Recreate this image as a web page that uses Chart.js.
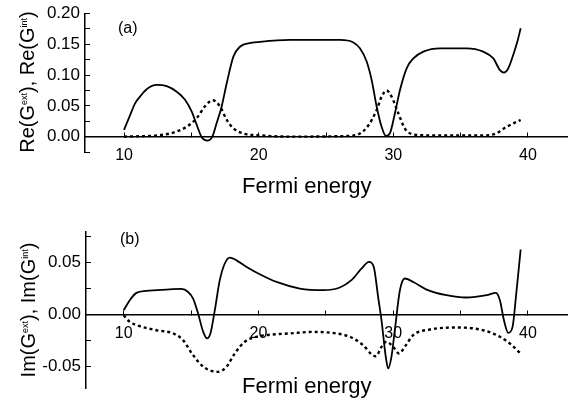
<!DOCTYPE html>
<html>
<head>
<meta charset="utf-8">
<script src="https://cdn.jsdelivr.net/npm/chart.js@4.4.0/dist/chart.umd.min.js"></script>
<style>
  body { margin: 0; background: #fff; }
  #wrap { position: relative; width: 569px; height: 403px; font-family: 'Liberation Sans', Arial, sans-serif; color: #000; }
  canvas { position: absolute; left: 0; }
  .lbl { position: absolute; white-space: nowrap; line-height: 1; }
  .ytitle { font-size: 20px; transform: translate(-50%, -50%) rotate(-90deg); }
  .ytitle sup { font-size: 9px; vertical-align: 7px; line-height: 0; }
  .xtitle { font-size: 22px; }
  .tag { font-size: 16px; }
</style>
</head>
<body>
<div id="wrap">
  <canvas id="chart-a" width="569" height="200" style="top:0"></canvas>
  <canvas id="chart-b" width="569" height="203" style="top:200px"></canvas>
  <div class="lbl tag" style="left:118px;top:20px">(a)</div>
  <div class="lbl tag" style="left:120px;top:231px">(b)</div>
  <div class="lbl ytitle" style="left:27px;top:82px">Re(G<sup>ext</sup>), Re(G<sup>int</sup>)</div>
  <div class="lbl ytitle" style="left:28px;top:310px">Im(G<sup>ext</sup>), Im(G<sup>int</sup>)</div>
  <div class="lbl xtitle" style="left:242px;top:175px">Fermi energy</div>
  <div class="lbl xtitle" style="left:242px;top:375px">Fermi energy</div>
</div>
<script>
// ---- panel (a): real parts ----
const reSolidX = [10.0, 10.45, 10.82, 11.19, 11.68, 12.43, 13.17, 13.91, 14.53, 15.02, 15.4, 15.77, 16.19, 16.56, 16.88, 17.25, 17.63, 18.12, 18.61, 19.23, 20.1, 22.33, 24.06, 26.04, 27.03, 27.52, 28.02, 28.39, 28.76, 29.13, 29.45, 29.75, 30.12, 30.5, 30.99, 31.49, 32.23, 33.47, 35.45, 36.68, 37.43, 37.92, 38.22, 38.54, 38.91, 39.21, 39.46];
const reSolidY = [0.011, 0.035, 0.054, 0.065, 0.077, 0.084, 0.082, 0.073, 0.060, 0.041, 0.019, -0.001, -0.0065, 0.0, 0.022, 0.049, 0.087, 0.130, 0.146, 0.1516, 0.154, 0.157, 0.157, 0.157, 0.153, 0.1435, 0.122, 0.092, 0.049, 0.016, 0.001, 0.0055, 0.038, 0.076, 0.111, 0.127, 0.138, 0.1435, 0.1435, 0.138, 0.127, 0.108, 0.104, 0.111, 0.133, 0.154, 0.176];
const reDotX = [10.0, 12.43, 13.66, 14.65, 15.4, 16.0, 16.58, 17.13, 17.63, 18.12, 18.86, 20.1, 22.3, 26.54, 27.52, 28.14, 28.76, 29.13, 29.5, 29.87, 30.37, 30.86, 31.49, 32.7, 36.9, 37.68, 38.42, 39.46];
const reDotY = [0.0, 0.002, 0.0065, 0.016, 0.030, 0.049, 0.059, 0.049, 0.027, 0.0135, 0.005, 0.002, 0.0, 0.001, 0.005, 0.018, 0.043, 0.065, 0.075, 0.065, 0.038, 0.013, 0.0035, 0.002, 0.002, 0.0056, 0.016, 0.027];

// ---- panel (b): imaginary parts ----
const imSolidX = [10.0, 10.45, 10.94, 11.68, 13.17, 14.28, 14.78, 15.15, 15.52, 15.9, 16.19, 16.44, 16.76, 17.13, 17.5, 17.88, 18.37, 19.12, 20.1, 21.34, 23.07, 24.8, 26.04, 26.9, 27.64, 28.21, 28.56, 28.88, 29.13, 29.45, 29.63, 29.87, 30.12, 30.5, 30.86, 31.49, 32.48, 33.96, 35.45, 36.93, 37.63, 37.92, 38.22, 38.54, 38.86, 39.11, 39.46];
const imSolidY = [0.0042, 0.0138, 0.0208, 0.0227, 0.024, 0.0246, 0.0217, 0.0154, 0.001, -0.0166, -0.0229, -0.018, 0.0042, 0.033, 0.049, 0.0547, 0.052, 0.0457, 0.0387, 0.0313, 0.025, 0.0234, 0.026, 0.033, 0.044, 0.0505, 0.0457, 0.017, -0.0054, -0.0405, -0.0516, -0.0405, -0.015, 0.0234, 0.0346, 0.0313, 0.024, 0.0186, 0.0164, 0.0186, 0.0208, 0.0138, -0.0054, -0.0175, -0.0118, 0.017, 0.0624];
const imDotX = [10.0, 10.45, 11.19, 12.43, 13.66, 14.4, 15.15, 15.9, 17.0, 17.63, 18.24, 18.98, 19.85, 21.34, 22.32, 24.06, 25.79, 26.78, 27.77, 28.39, 28.71, 29.13, 29.5, 30.0, 30.44, 30.86, 31.49, 32.72, 34.95, 36.68, 37.92, 38.66, 39.46];
const imDotY = [-0.0006, -0.007, -0.0111, -0.015, -0.018, -0.0245, -0.0389, -0.050, -0.0549, -0.050, -0.0373, -0.0261, -0.0213, -0.0188, -0.0181, -0.0166, -0.0181, -0.0213, -0.0293, -0.038, -0.040, -0.031, -0.026, -0.031, -0.0373, -0.031, -0.0197, -0.0143, -0.0124, -0.015, -0.0213, -0.0277, -0.0373];

const X_MAX = 42.9;

Chart.defaults.font.family = "'Liberation Sans', Arial, sans-serif";
Chart.defaults.font.size = 16;
Chart.defaults.color = '#000';

function lineSet(xs, ys, dotted) {
    return {
        data: xs.map((x, i) => ({ x, y: ys[i] })),
        borderColor: '#000',
        borderWidth: dotted ? 2.4 : 1.8,
        borderDash: dotted ? [3, 3] : [],
        pointRadius: 0,
        cubicInterpolationMode: 'monotone',
        fill: false
    };
}

const isMajor = (v, step) => Math.abs(v / step - Math.round(v / step)) < 1e-6;

function makePanel(id, sets, yMin, yMax, xMin, axisLeft, pad) {
    return new Chart(document.getElementById(id), {
        type: 'line',
        data: { datasets: sets },
        options: {
            responsive: false,
            animation: false,
            layout: { padding: pad },
            plugins: { legend: { display: false }, tooltip: { enabled: false } },
            scales: {
                x: {
                    type: 'linear', min: xMin, max: X_MAX, position: { y: 0 },
                    border: { color: '#000', width: 1.5 },
                    grid: { drawOnChartArea: false, tickLength: -5, tickColor: '#000' },
                    ticks: {
                        stepSize: 5, includeBounds: false, padding: 14, maxRotation: 0, autoSkip: false,
                        callback: v => isMajor(v, 10) ? String(Math.round(v)) : ''
                    }
                },
                y: {
                    type: 'linear', min: yMin, max: yMax,
                    border: { color: '#000', width: 1.5 },
                    grid: { drawOnChartArea: false, tickLength: -5, tickColor: '#000' },
                    ticks: {
                        stepSize: 0.025, includeBounds: false, padding: 10, autoSkip: false,
                        font: { size: 17 },
                        callback: v => isMajor(v, 0.05) ? (Math.abs(v) < 1e-9 ? 0 : v).toFixed(2) : ''
                    },
                    afterFit: s => { s.width = axisLeft; s.paddingTop = 0; s.paddingBottom = 0; }
                }
            }
        }
    });
}

makePanel('chart-a', [lineSet(reSolidX, reSolidY, false), lineSet(reDotX, reDotY, true)],
    -0.025, 0.2, 7.1, 85, { top: 13.5, right: 2, bottom: 48, left: 0 });
makePanel('chart-b', [lineSet(imSolidX, imSolidY, false), lineSet(imDotX, imDotY, true)],
    -0.0707, 0.0795, 7.2, 86, { top: 31.7, right: 2, bottom: 14.7, left: 0 });
</script>
</body>
</html>
